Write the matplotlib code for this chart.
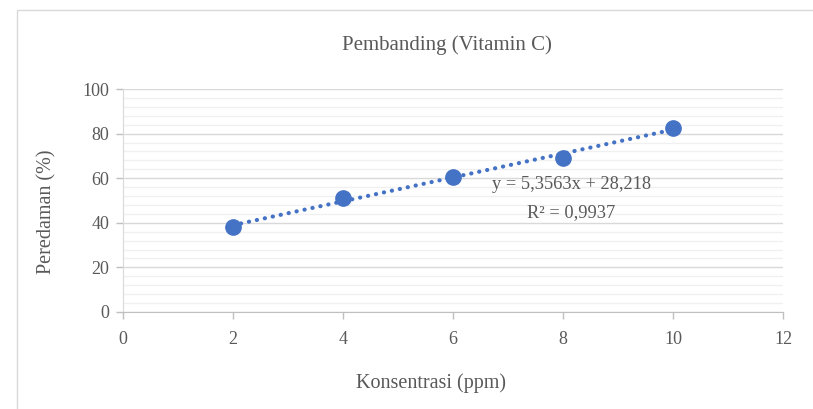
import matplotlib
matplotlib.use("Agg")
import matplotlib.pyplot as plt
from matplotlib.patches import Rectangle
from matplotlib.ticker import MultipleLocator
import numpy as np

x_vals = [2, 4, 6, 8, 10]
y_vals = [38.1, 51.2, 60.5, 69.1, 82.5]
slope = 5.3563
intercept = 28.218
r2_text = "R² = 0,9937"
eq_text = "y = 5,3563x + 28,218"
title = "Pembanding (Vitamin C)"
xlabel = "Konsentrasi (ppm)"
ylabel = "Peredaman (%)"

plt.rcParams['font.family'] = ['Liberation Serif', 'DejaVu Serif']
txt = '#595959'
blue = '#4472C4'

fig = plt.figure(figsize=(8.13, 4.09), dpi=100)
fig.patches.append(Rectangle((17/813, -0.05), 1.0, 1 - 10/409 + 0.05,
                             transform=fig.transFigure, fill=False,
                             edgecolor='#D9D9D9', linewidth=1.0))
ax = fig.add_axes([123/813, 1 - 312/409, (783-123)/813, (312-89)/409])

ax.set_xlim(0, 12)
ax.set_ylim(0, 100)
ax.xaxis.set_major_locator(MultipleLocator(2))
ax.yaxis.set_major_locator(MultipleLocator(20))
ax.yaxis.set_minor_locator(MultipleLocator(4))

ax.grid(which='minor', axis='y', color='#F0F0F0', linewidth=1.0)
ax.grid(which='major', axis='y', color='#D9D9D9', linewidth=1.0)
ax.set_axisbelow(True)

for s in ['top', 'right']:
    ax.spines[s].set_visible(False)
ax.spines['left'].set_color('#D9D9D9')
ax.spines['bottom'].set_color('#BFBFBF')

ax.tick_params(axis='both', which='major', colors='#BFBFBF', labelcolor=txt,
               labelsize=13, length=5, width=1, direction='out')
ax.tick_params(axis='y', which='minor', length=0)
ax.tick_params(axis='x', pad=9)
ax.tick_params(axis='y', pad=5)

xt = np.array([x_vals[0], x_vals[-1]])
ax.plot(xt, slope * xt + intercept, linestyle=(0, (0.05, 1.9)), color=blue,
        linewidth=3.0, dash_capstyle='round', zorder=2)
ax.plot(x_vals, y_vals, 'o', color=blue, markersize=11, zorder=3)

ax.text(8.15, 57.0, eq_text, ha='center', va='center', color=txt, fontsize=13.2)
ax.text(8.15, 44.8, r2_text, ha='center', va='center', color=txt, fontsize=13.2)

fig.text(447/813, 1 - 45/409, title, ha='center', va='center', color=txt, fontsize=15)
fig.text(431/813, 1 - 383/409, xlabel, ha='center', va='center', color=txt, fontsize=14.5)
fig.text(47/813, 1 - 212/409, ylabel, ha='center', va='center', color=txt,
         fontsize=14.5, rotation=90)

fig.savefig('out.png', dpi=100)
